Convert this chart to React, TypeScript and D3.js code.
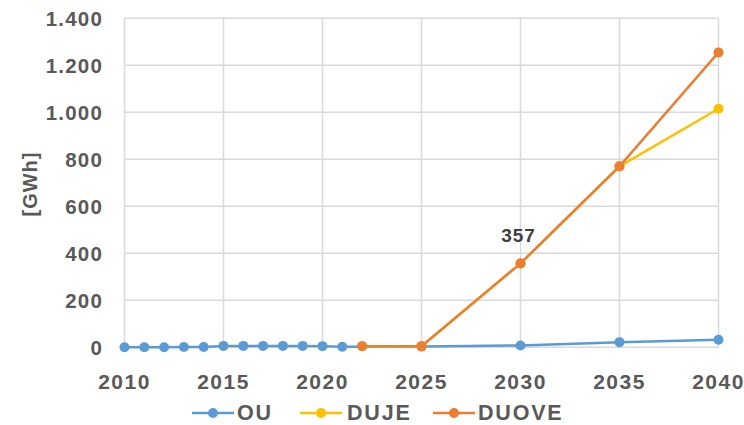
import React from "react";
import * as d3 from "d3";

const ouYears = [2010, 2011, 2012, 2013, 2014, 2015, 2016, 2017, 2018, 2019, 2020, 2021, 2025, 2030, 2035, 2040];
const ouValues = [0, 0, 0, 1, 1, 6, 6, 6, 6, 6, 5, 2, 3, 8, 22, 32];
const dujeYears = [2022, 2025, 2030, 2035, 2040];
const dujeValues = [5, 5, 357, 770, 1015];
const duoveYears = [2022, 2025, 2030, 2035, 2040];
const duoveValues = [5, 5, 357, 770, 1255];
const xTicks = [2010, 2015, 2020, 2025, 2030, 2035, 2040];
const yTicks = [0, 200, 400, 600, 800, 1000, 1200, 1400];
const seriesNames = ["OU", "DUJE", "DUOVE"];
const colors = ["#5B9BD5", "#FFC000", "#ED7D31"];

const fmt = (v: number) => (v >= 1000 ? d3.format(",")(v).replace(",", ".") : String(v));

export default function App() {
  const W = 744, H = 425;
  const x = d3.scaleLinear().domain([2010, 2040]).range([124.5, 718.5]);
  const y = d3.scaleLinear().domain([0, 1400]).range([347.3, 18.3]);
  const line = d3.line<[number, number]>().x(d => x(d[0])).y(d => y(d[1]));
  const series = [
    { years: ouYears, values: ouValues },
    { years: dujeYears, values: dujeValues },
    { years: duoveYears, values: duoveValues },
  ];
  const font = "'Liberation Sans', Arial, sans-serif";
  const txt = "#595959";
  const legend = [
    { x0: 192, tx: 237 },
    { x0: 300, tx: 347 },
    { x0: 433, tx: 478 },
  ];
  return (
    <svg width={W} height={H} style={{ position: "absolute", left: 0, top: 0, background: "#fff" }}>
      <rect width={W} height={H} fill="#fff" />
      {yTicks.map(t => (
        <line key={"h" + t} x1={x(2010)} x2={x(2040)} y1={y(t)} y2={y(t)} stroke="#D9D9D9" strokeWidth={1.5} />
      ))}
      {xTicks.map(t => (
        <line key={"v" + t} x1={x(t)} x2={x(t)} y1={y(1400)} y2={y(0)} stroke="#D9D9D9" strokeWidth={1.5} />
      ))}
      {yTicks.map(t => (
        <text key={"yl" + t} x={103} y={y(t) + 7.5} textAnchor="end" fontFamily={font} fontWeight="bold" fontSize={20.5} letterSpacing={1.2} fill={txt}>
          {fmt(t)}
        </text>
      ))}
      {xTicks.map(t => (
        <text key={"xl" + t} x={x(t)} y={388.5} textAnchor="middle" fontFamily={font} fontWeight="bold" fontSize={21} letterSpacing={1.5} fill={txt}>
          {t}
        </text>
      ))}
      <text transform="translate(37,184) rotate(-90)" textAnchor="middle" fontFamily={font} fontWeight="bold" fontSize={20} letterSpacing={1} fill={txt}>
        [GWh]
      </text>
      {series.map((s, i) => {
        const pts: [number, number][] = s.years.map((yr, j) => [yr, s.values[j]]);
        return (
          <g key={"s" + i}>
            <path d={line(pts) || ""} fill="none" stroke={colors[i]} strokeWidth={2.5} />
            {pts.map((p, j) => (
              <circle key={j} cx={x(p[0])} cy={y(p[1])} r={5} fill={colors[i]} />
            ))}
          </g>
        );
      })}
      <text x={x(2030) - 2} y={242} textAnchor="middle" fontFamily={font} fontWeight="bold" fontSize={19} letterSpacing={1} fill="#404040">
        {duoveValues[2]}
      </text>
      {seriesNames.map((n, i) => (
        <g key={"lg" + i}>
          <line x1={legend[i].x0} x2={legend[i].x0 + 42} y1={413} y2={413} stroke={colors[i]} strokeWidth={2.5} />
          <circle cx={legend[i].x0 + 21} cy={413} r={5} fill={colors[i]} />
          <text x={legend[i].tx} y={420.3} fontFamily={font} fontWeight="bold" fontSize={21.5} letterSpacing={1.8} fill={txt}>
            {n}
          </text>
        </g>
      ))}
    </svg>
  );
}
